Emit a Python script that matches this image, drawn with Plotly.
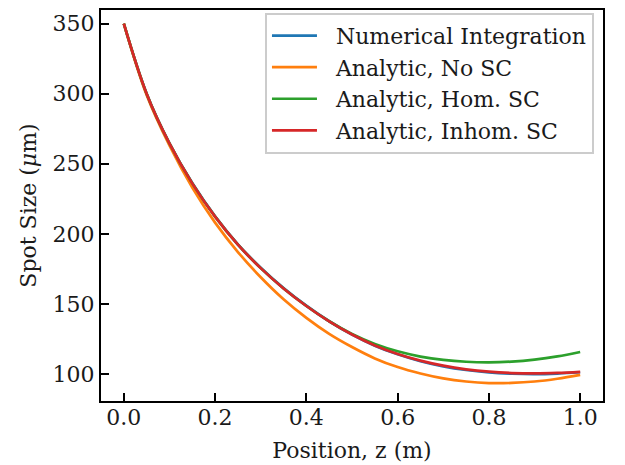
import plotly.graph_objects as go

z = [0.00, 0.05, 0.10, 0.15, 0.20, 0.25, 0.30, 0.35, 0.40, 0.45, 0.50,
     0.55, 0.60, 0.65, 0.70, 0.75, 0.80, 0.85, 0.90, 0.95, 1.00]

numerical = [350, 300, 264.6, 236.2, 212.5, 192.5, 175.8, 161.3, 148.7, 137.6, 128.1,
             120.2, 114.0, 109.1, 105.4, 102.8, 101.1, 100.2, 99.9, 100.3, 101.2]
no_sc = [350, 299, 263, 233, 208, 187, 169, 153.3, 140, 128.6, 119.2,
         111.1, 104.9, 100.3, 96.8, 94.6, 93.5, 93.6, 94.6, 96.6, 99.3]
hom_sc = [350, 300, 264.5, 236, 212.25, 192.25, 175.5, 161, 148.5, 137.6, 128.5,
          121.4, 116.15, 112.4, 110, 108.7, 108.3, 108.8, 110.2, 112.5, 115.7]
inhom_sc = [350, 300, 264.5, 236, 212.25, 192.25, 175.5, 161, 148.5, 137.5, 128.1,
            120.35, 114.25, 109.5, 105.9, 103.3, 101.6, 100.65, 100.35, 100.7, 101.5]

names = ["Numerical Integration", "Analytic, No SC", "Analytic, Hom. SC", "Analytic, Inhom. SC"]
series = [numerical, no_sc, hom_sc, inhom_sc]
colors = ["#1f77b4", "#ff7f0e", "#2ca02c", "#d62728"]

font = "DejaVu Serif"
txt = "#1a1a1a"
pad = "\u00a0\u00a0"

fig = go.Figure()
for i, (n, s, c) in enumerate(zip(names, series, colors)):
    fig.add_trace(go.Scatter(
        x=z, y=s, mode="lines", name=pad + n,
        line=dict(color=c, width=2.7, shape="spline", smoothing=1.0),
        legendgroup=f"g{i}",
    ))

axis_common = dict(
    showgrid=False, zeroline=False,
    showline=True, linecolor="black", linewidth=2.2, mirror=True,
    ticks="inside", ticklen=8, tickwidth=1.8, tickcolor="black",
    tickfont=dict(family=font, size=22, color=txt),
)

fig.update_xaxes(
    range=[-0.05, 1.05], tickvals=[0, 0.2, 0.4, 0.6, 0.8, 1.0], tickformat=".1f",
    ticklabelstandoff=-5,
    title=dict(text="Position, z (m)", font=dict(family=font, size=22, color=txt), standoff=14),
    **axis_common,
)
fig.update_yaxes(
    range=[80.7, 359.7], tickvals=[100, 150, 200, 250, 300, 350],
    title=dict(text="Spot Size (<i>μ</i>m)", font=dict(family=font, size=22, color=txt), standoff=10),
    **axis_common,
)

fig.update_layout(
    width=625, height=465,
    margin=dict(l=93, r=30, t=0, b=72),
    paper_bgcolor="white", plot_bgcolor="white",
    font=dict(family=font, size=22, color=txt),
    legend=dict(
        x=0.982, y=0.993, xanchor="right", yanchor="top",
        bgcolor="rgba(255,255,255,0.85)", bordercolor="#cccccc", borderwidth=2,
        font=dict(family=font, size=22, color=txt),
        tracegroupgap=0, itemwidth=45,
    ),
    showlegend=True,
)

fig.write_html("out.html")
